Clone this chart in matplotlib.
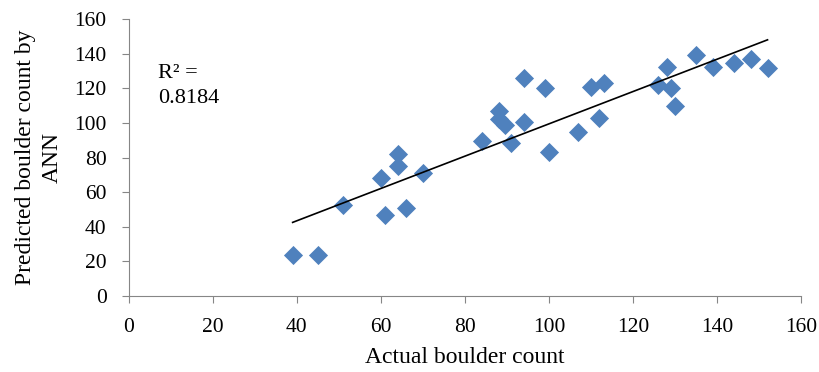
import matplotlib
matplotlib.use("Agg")
import matplotlib.pyplot as plt
import numpy as np

# actual vs predicted boulder counts
actual = [39, 45, 51, 60, 61, 64, 64, 66, 70, 84, 88, 88, 89.5, 91, 94, 94,
          99, 100, 107, 110, 112, 113, 126, 128, 129, 130, 135, 139, 144, 148, 152]
predicted = [23.5, 23.5, 52.5, 68, 47, 82, 75, 51, 71, 89.5, 107, 102, 99, 88.5,
             126, 100.5, 120, 83, 95, 121, 103, 123, 122, 132, 120, 110, 139,
             132, 134.5, 137, 131.5]
r2_text = "R² =\n0.8184"

plt.rcParams["font.family"] = ["Liberation Serif", "DejaVu Serif"]

fig = plt.figure(figsize=(8.2, 3.72), dpi=100)
ax = fig.add_axes([0.157, 0.204, 0.82, 0.745])

ax.scatter(actual, predicted, marker="D", s=95, color="#4F81BD", zorder=3,
           linewidths=0)

# linear trend line
coef = np.polyfit(actual, predicted, 1)
xs = np.array([min(actual), max(actual)])
ax.plot(xs, np.polyval(coef, xs), color="black", lw=1.2, zorder=4)

ax.text(7, 134, r2_text, fontsize=16, va="top", ha="left", linespacing=1.45)

ax.set_xlim(0, 160)
ax.set_ylim(0, 160)
ax.set_xticks(np.arange(0, 161, 20))
ax.set_yticks(np.arange(0, 161, 20))
ax.tick_params(direction="out", length=5, color="#868686", labelsize=15.5)
ax.tick_params(axis="x", pad=11)
ax.tick_params(axis="y", pad=11)
for side in ["top", "right"]:
    ax.spines[side].set_visible(False)
for side in ["left", "bottom"]:
    ax.spines[side].set_color("#868686")

ax.set_xlabel("Actual boulder count", fontsize=17, labelpad=7)
ax.set_ylabel("Predicted boulder count by\nANN", fontsize=17, labelpad=8,
              linespacing=1.4)

plt.savefig("out.png")
